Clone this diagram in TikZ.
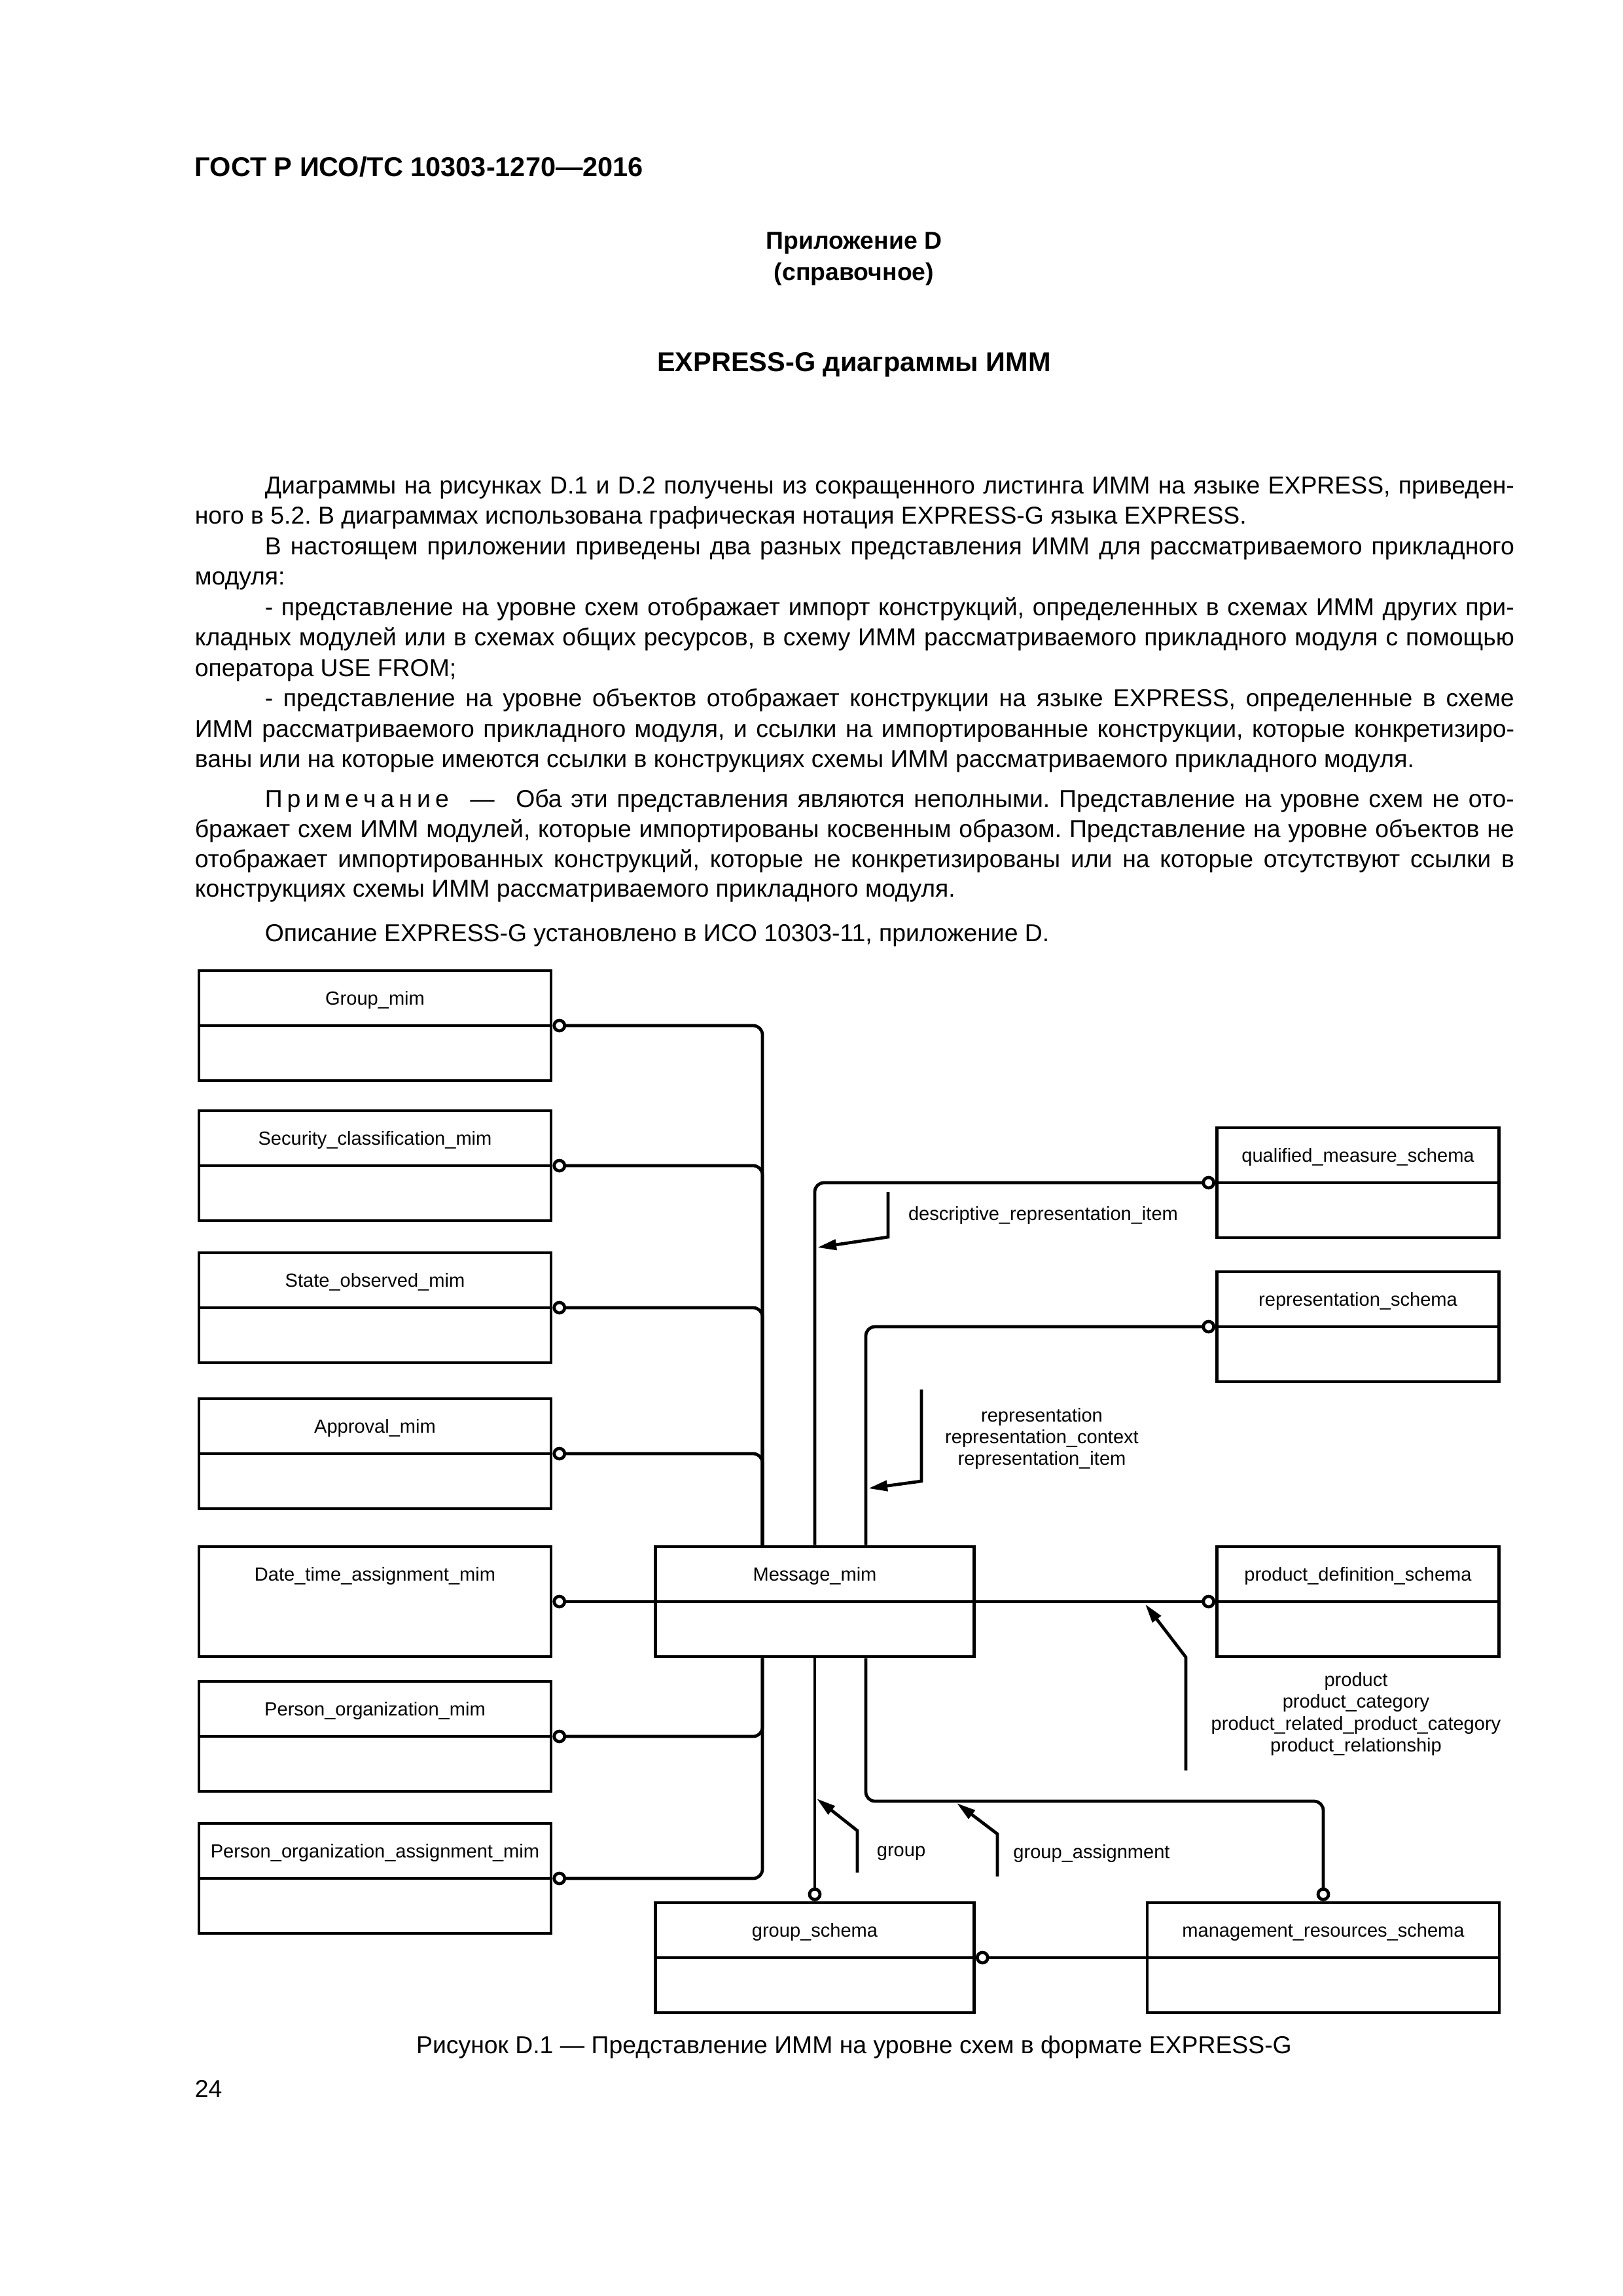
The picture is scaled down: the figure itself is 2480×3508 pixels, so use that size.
\documentclass[tikz,border=0pt]{standalone}
\usepackage{fontspec}
\setmainfont{Liberation Sans}
\usetikzlibrary{arrows.meta}

\newlength{\px}
\setlength{\px}{0.0846667mm}
\newcommand{\jfull}[1]{\hbox to 2016\px{#1}}
\newcommand{\jind}[1]{\hbox to 1909\px{#1}}
\frenchspacing

\begin{document}
\begin{tikzpicture}[x=0.0846667mm, y=-0.0846667mm,
    oc/.tip={Circle[open, length=5pt]},
    tri/.tip={Triangle[length=7pt, width=3.8pt]},
    entity/.style={draw, line width=1.15pt, minimum height=168\px, inner sep=0pt,
      font=\fontsize{7}{8}\selectfont, text height=0pt, text depth=64\px},
    conn/.style={line width=1.15pt, rounded corners=14\px},
    refline/.style={line width=1.15pt, -tri},
    lbl/.style={inner sep=0pt, align=center, font=\fontsize{7}{8.05}\selectfont},
    body/.style={anchor=base west, inner sep=0pt, font=\fontsize{9}{11.2}\selectfont},
    head/.style={anchor=base, inner sep=0pt, font=\bfseries\fontsize{9}{11}\selectfont}]
  \path[fill=white, use as bounding box] (0,0) rectangle (2480,3508);

  % Page head
  \node (gost) [body, font=\bfseries\fontsize{10}{12}\selectfont] at (297,269) {ГОСТ Р ИСО/ТС 10303-1270—2016};
  \node (annex) [head] at (1305,380) {Приложение D};
  \node (kind) [head] at (1305,428) {(справочное)};
  \node (title) [head, font=\bfseries\fontsize{10}{12}\selectfont] at (1305,567) {EXPRESS-G диаграммы ИММ};

  % Text
  \node (p1a) [body] at (404,754) {\jind{Диаграммы на рисунках D.1 и D.2 получены из сокращенного листинга ИММ на языке EXPRESS, приведен-}};
  \node (p1b) [body] at (297,800) {ного в 5.2. В диаграммах использована графическая нотация EXPRESS-G языка EXPRESS.};
  \node (p2a) [body] at (404,847) {\jind{В настоящем приложении приведены два разных представления ИММ для рассматриваемого прикладного}};
  \node (p2b) [body] at (297,893) {модуля:};
  \node (p3a) [body] at (404,940) {\jind{- представление на уровне схем отображает импорт конструкций, определенных в схемах ИММ других при-}};
  \node (p3b) [body] at (297,986) {\jfull{кладных модулей или в схемах общих ресурсов, в схему ИММ рассматриваемого прикладного модуля с помощью}};
  \node (p3c) [body] at (297,1033) {оператора USE FROM;};
  \node (p4a) [body] at (404,1079) {\jind{- представление на уровне объектов отображает конструкции на языке EXPRESS, определенные в схеме}};
  \node (p4b) [body] at (297,1126) {\jfull{ИММ рассматриваемого прикладного модуля, и ссылки на импортированные конструкции, которые конкретизиро-}};
  \node (p4c) [body] at (297,1172) {ваны или на которые имеются ссылки в конструкциях схемы ИММ рассматриваемого прикладного модуля.};

  % Note
  \node (n1) [body] at (404,1233) {\jind{П\kern1.7pt{}р\kern1.7pt{}и\kern1.7pt{}м\kern1.7pt{}е\kern1.7pt{}ч\kern1.7pt{}а\kern1.7pt{}н\kern1.7pt{}и\kern1.7pt{}е\enskip{} — \enskip{}Оба эти представления являются неполными. Представление на уровне схем не ото-}};
  \node (n2) [body] at (297,1279) {\jfull{бражает схем ИММ модулей, которые импортированы косвенным образом. Представление на уровне объектов не}};
  \node (n3) [body] at (297,1325) {\jfull{отображает импортированных конструкций, которые не конкретизированы или на которые отсутствуют ссылки в}};
  \node (n4) [body] at (297,1370) {конструкциях схемы ИММ рассматриваемого прикладного модуля.};
  \node (desc) [body] at (404,1438) {Описание EXPRESS-G установлено в ИСО 10303-11, приложение D.};

  % Left schemas
  \node (grp) [entity, minimum width=538\px] at (573,1567) {Group\_mim};
  \node (sec) [entity, minimum width=538\px] at (573,1781) {Security\_classification\_mim};
  \node (sto) [entity, minimum width=538\px] at (573,1998) {State\_observed\_mim};
  \node (app) [entity, minimum width=538\px] at (573,2221) {Approval\_mim};
  \node (dta) [entity, minimum width=538\px] at (573,2447) {Date\_time\_assignment\_mim};
  \node (pos) [entity, minimum width=538\px] at (573,2653) {Person\_organization\_mim};
  \node (poa) [entity, minimum width=538\px] at (573,2870) {Person\_organization\_assignment\_mim};

  % Middle schemas
  \node (msg) [entity, minimum width=487\px] at (1245,2447) {Message\_mim};
  \node (gps) [entity, minimum width=487\px] at (1245,2991) {group\_schema};

  % Right schemas
  \node (qms) [entity, minimum width=431\px] at (2075,1807) {qualified\_measure\_schema};
  \node (rps) [entity, minimum width=431\px] at (2075,2027) {representation\_schema};
  \node (pds) [entity, minimum width=431\px] at (2075,2447) {product\_definition\_schema};
  \node (mrs) [entity, minimum width=538\px] at (2022,2991) {management\_resources\_schema};

  % Dividers
  \draw[line width=1.15pt] (grp.west) -- (grp.east);
  \draw[line width=1.15pt] (sec.west) -- (sec.east);
  \draw[line width=1.15pt] (sto.west) -- (sto.east);
  \draw[line width=1.15pt] (app.west) -- (app.east);
  \draw[line width=1.15pt] (pos.west) -- (pos.east);
  \draw[line width=1.15pt] (poa.west) -- (poa.east);
  \draw[line width=1.15pt] (msg.west) -- (msg.east);
  \draw[line width=1.15pt] (gps.west) -- (gps.east);
  \draw[line width=1.15pt] (qms.west) -- (qms.east);
  \draw[line width=1.15pt] (rps.west) -- (rps.east);
  \draw[line width=1.15pt] (pds.west) -- (pds.east);
  \draw[line width=1.15pt] (mrs.west) -- (mrs.east);

  % Bus points
  \coordinate (lbus) at (1165,2447);
  \coordinate (rbus) at (1323,2447);
  \coordinate (gbend) at (2022,2752);

  % References
  \draw[conn, oc-] (grp.east) -| (lbus |- msg.north);
  \draw[conn, oc-] (sec.east) -| (lbus |- msg.north);
  \draw[conn, oc-] (sto.east) -| (lbus |- msg.north);
  \draw[conn, oc-] (app.east) -| (lbus |- msg.north);
  \draw[conn, oc-oc] (dta.east) -- (pds.west);
  \draw[conn, oc-] (pos.east) -| (lbus |- msg.south);
  \draw[conn, oc-] (poa.east) -| (lbus |- msg.south);
  \draw[conn, oc-] (qms.west) -| (msg.north);
  \draw[conn, oc-] (rps.west) -| (rbus |- msg.north);
  \draw[conn, -oc] (msg.south) -- (gps.north);
  \draw[conn, -oc] (rbus |- msg.south) |- (gbend) -- (mrs.north);
  \draw[conn, oc-] (gps.east) -- (mrs.west);

  % Used items
  \draw[refline] (1357,1821) -- (1357,1890) -- (1249,1906);
  \draw[refline] (1408,2123) -- (1408,2263) -- (1327,2274);
  \draw[refline] (1812,2705) -- (1812,2532) -- (1750,2451);
  \draw[refline] (1310,2861) -- (1310,2797) -- (1248,2748);
  \draw[refline] (1524,2867) -- (1524,2802) -- (1462,2755);

  \node (dri) [lbl] at (1594,1857) {descriptive\_representation\_item};
  \node (rpl) [lbl] at (1592,2198) {representation\\representation\_context\\representation\_item};
  \node (pdl) [lbl] at (2072,2619) {product\\product\_category\\product\_related\_product\_category\\product\_relationship};
  \node (grl) [lbl] at (1377,2832) {group};
  \node (gal) [lbl] at (1668,2832) {group\_assignment};

  % Caption
  \node (cap) [anchor=base, inner sep=0pt, font=\fontsize{9}{11.2}\selectfont] at (1305,3137) {Рисунок D.1 — Представление ИММ на уровне схем в формате EXPRESS-G};
  \node (page) [body] at (297,3204) {24};
\end{tikzpicture}
\end{document}
